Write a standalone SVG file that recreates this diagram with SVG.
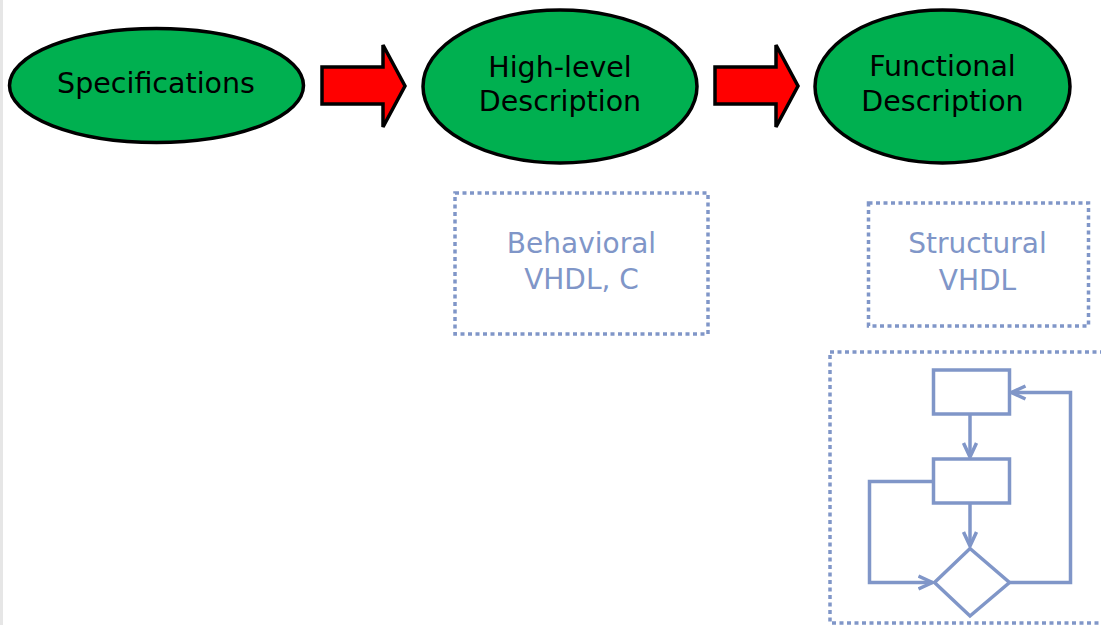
<svg xmlns="http://www.w3.org/2000/svg" width="1101" height="625" viewBox="0 0 1101 625">
<style>
.node{fill:#00b050;stroke:#000;stroke-width:3.5}
.arrow{fill:#ff0000;stroke:#000;stroke-width:3.5;stroke-linejoin:miter}
.lbl{font-family:"DejaVu Sans",Verdana,sans-serif;font-size:28.5px;fill:#000;text-anchor:middle}
.blbl{font-family:"DejaVu Sans",Verdana,sans-serif;font-size:28px;fill:#8096c8;text-anchor:middle}
.dot{fill:none;stroke:#8096c8;stroke-width:3.5;stroke-dasharray:4 3.5}
.fc{fill:none;stroke:#8096c8;stroke-width:3.5}
</style>
<defs>
<marker id="open" markerUnits="userSpaceOnUse" markerWidth="18" markerHeight="18" refX="15" refY="8" orient="auto" viewBox="0 0 18 16">
<path d="M1,1.5 L15,8 L1,14.5" fill="none" stroke="#8096c8" stroke-width="3.5"/>
</marker>
</defs>
<rect x="0" y="0" width="3" height="625" fill="#e6e6e6"/>
<g id="specifications">
<ellipse class="node" cx="156.5" cy="85.5" rx="147" ry="57"/>
<text class="lbl" x="156" y="93">Specifications</text>
</g>
<g id="high-level">
<ellipse class="node" cx="560" cy="86.5" rx="137" ry="76.5"/>
<text class="lbl" x="560" y="77">High-level</text>
<text class="lbl" x="560" y="111">Description</text>
</g>
<g id="functional">
<ellipse class="node" cx="942.5" cy="86.5" rx="127.5" ry="76.5"/>
<text class="lbl" x="942.5" y="76">Functional</text>
<text class="lbl" x="942.5" y="111">Description</text>
</g>
<g id="connectors">
<polygon class="arrow" points="322,67 383,67 383,45 405,86 383,127 383,104 322,104"/>
<polygon class="arrow" points="715,67 776,67 776,45 798,86 776,127 776,104 715,104"/>
</g>
<g id="behavioral">
<rect class="dot" x="455" y="193" width="253" height="141"/>
<text class="blbl" x="581.5" y="253">Behavioral</text>
<text class="blbl" x="581.5" y="289">VHDL, C</text>
</g>
<g id="structural">
<rect class="dot" x="868.5" y="203" width="220" height="123"/>
<text class="blbl" x="977.5" y="253">Structural</text>
<text class="blbl" x="977.5" y="290">VHDL</text>
</g>
<g id="flowchart">
<rect class="dot" x="830" y="352" width="280" height="271"/>
<rect class="fc" x="933.5" y="370" width="76" height="44"/>
<rect class="fc" x="933.5" y="459" width="76" height="44"/>
<polygon class="fc" points="970,548.5 1009.5,582.5 970,616 934.5,582.5"/>
<path class="fc" d="M970,414 L970,457" marker-end="url(#open)"/>
<path class="fc" d="M970,503 L970,546" marker-end="url(#open)"/>
<path class="fc" d="M933.5,481.5 L869.5,481.5 L869.5,582.5 L932.5,582.5" marker-end="url(#open)"/>
<path class="fc" d="M1009.5,582.5 L1070.5,582.5 L1070.5,392.5 L1011.5,392.5" marker-end="url(#open)"/>
</g>
</svg>
